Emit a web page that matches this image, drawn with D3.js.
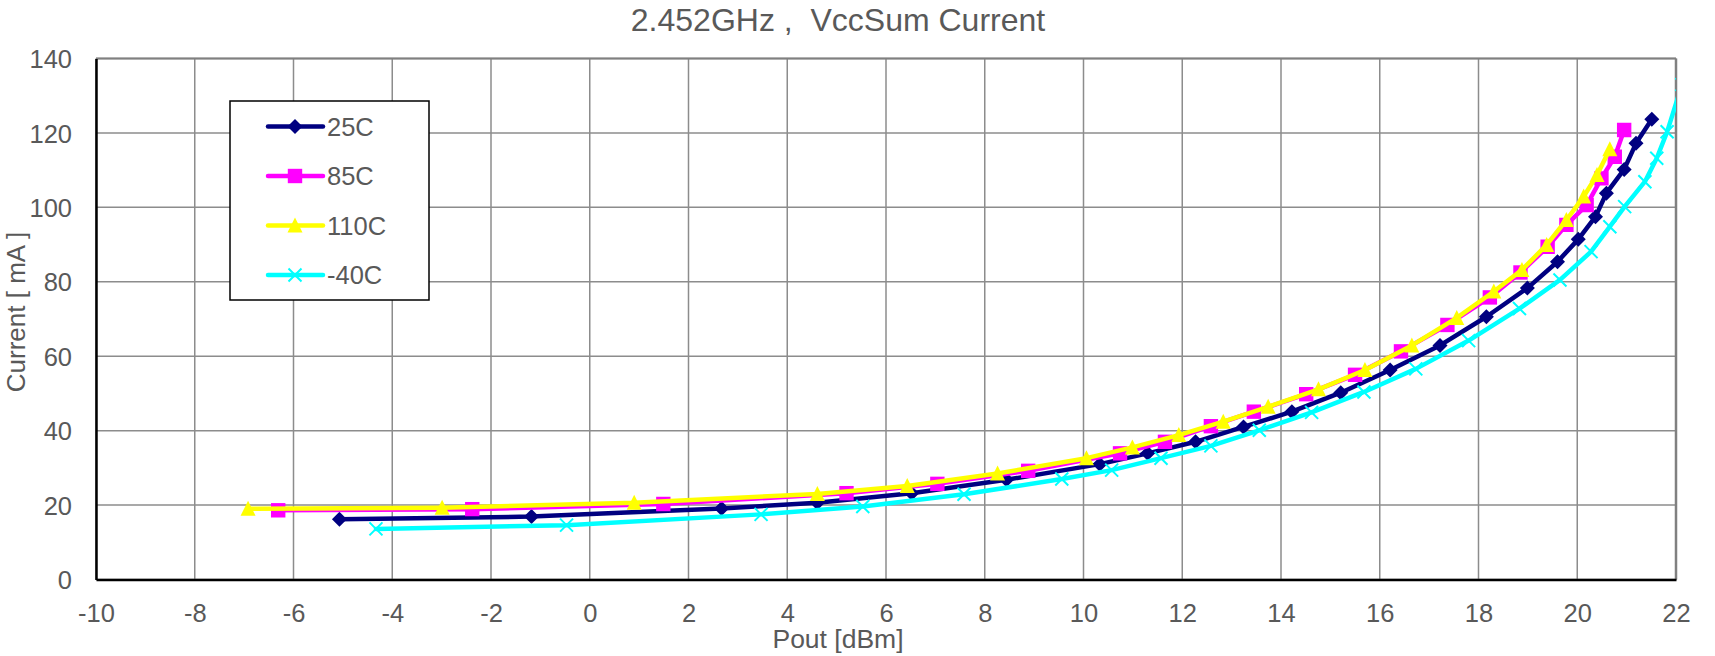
<!DOCTYPE html>
<html>
<head>
<meta charset="utf-8">
<script src="https://cdn.jsdelivr.net/npm/d3@7"></script>
<style>
  html, body { margin: 0; padding: 0; background: #fff; }
  svg { display: block; font-family: "Liberation Sans", Arial, sans-serif; }
</style>
</head>
<body>
<svg id="chart" width="1715" height="656"></svg>
<script>
// Pout [dBm] and VccSum current [mA] per temperature
const pout25 = [-5.07, -1.18, 2.67, 4.61, 6.52, 8.44, 10.33, 11.30, 12.27, 13.24, 14.22, 15.21, 16.21, 17.22, 18.16, 18.99, 19.60, 20.02, 20.37, 20.59, 20.95, 21.19, 21.51];
const curr25 = [16.2, 16.9, 19.1, 20.6, 23.2, 26.8, 31.0, 33.9, 37.0, 41.0, 45.1, 50.2, 56.3, 62.9, 70.6, 78.3, 85.4, 91.4, 97.5, 103.8, 110.2, 117.2, 123.7];

const pout85 = [-6.31, -2.38, 1.49, 5.20, 7.04, 8.88, 10.74, 11.65, 12.58, 13.45, 14.51, 15.50, 16.43, 17.37, 18.23, 18.85, 19.40, 19.78, 20.19, 20.49, 20.76, 20.95];
const curr85 = [18.6, 18.9, 20.3, 23.2, 25.7, 29.2, 33.9, 37.0, 41.2, 45.1, 49.8, 55.0, 61.3, 68.4, 75.8, 82.5, 89.4, 95.3, 100.6, 107.8, 113.6, 120.8];

const pout110 = [-6.92, -2.99, 0.90, 4.61, 6.43, 8.26, 10.06, 10.99, 11.93, 12.83, 13.74, 14.76, 15.70, 16.65, 17.56, 18.31, 18.88, 19.38, 19.78, 20.13, 20.40, 20.66];
const curr110 = [19.0, 19.3, 20.6, 23.0, 25.1, 28.5, 32.6, 35.5, 38.8, 42.4, 46.4, 51.1, 56.3, 62.9, 70.3, 77.4, 83.2, 89.9, 96.6, 102.9, 108.7, 115.6];

const poutM40 = [-4.33, -0.47, 3.47, 5.53, 7.58, 9.56, 10.57, 11.57, 12.58, 13.56, 14.62, 15.68, 16.73, 17.80, 18.83, 19.65, 20.28, 20.66, 20.96, 21.37, 21.61, 21.82, 22.12];
const currM40 = [13.6, 14.6, 17.5, 19.6, 22.9, 27.0, 29.4, 32.6, 35.9, 40.1, 44.9, 50.4, 56.6, 64.2, 72.8, 80.5, 88.1, 94.8, 100.2, 106.9, 113.2, 120.3, 133.0];

const seriesNames = ["25C", "85C", "110C", "-40C"];
const seriesColors = ["#000080", "#FF00FF", "#FFFF00", "#00FFFF"];
const seriesMarkers = ["diamond", "square", "triangle", "cross"];

const xTicks = [-10, -8, -6, -4, -2, 0, 2, 4, 6, 8, 10, 12, 14, 16, 18, 20, 22];
const yTicks = [0, 20, 40, 60, 80, 100, 120, 140];

const titleText = "2.452GHz ,  VccSum Current";
const xTitle = "Pout [dBm]";
const yTitle = "Current [ mA ]";

const series = seriesNames.map((name, i) => {
  const xs = [pout25, pout85, pout110, poutM40][i];
  const ys = [curr25, curr85, curr110, currM40][i];
  return { name, color: seriesColors[i], marker: seriesMarkers[i],
           points: xs.map((v, k) => ({ x: v, y: ys[k] })) };
});

const svg = d3.select("#chart");
const plotL = 96, plotR = 1676, plotT = 58.5, plotB = 579.5;
const x = d3.scaleLinear().domain([-10, 22]).range([plotL, plotR]);
const y = d3.scaleLinear().domain([0, 140]).range([plotB, plotT]);
const textColor = "#595959";
const fontFamily = '"Liberation Sans", Arial, sans-serif';

svg.append("defs").append("clipPath").attr("id", "plotClip")
  .append("rect").attr("x", plotL).attr("y", plotT)
  .attr("width", plotR - plotL).attr("height", plotB - plotT);

// grid
const grid = svg.append("g");
grid.selectAll("line.v").data(xTicks).join("line").attr("class", "v")
  .attr("x1", d => x(d)).attr("x2", d => x(d))
  .attr("y1", plotT).attr("y2", plotB)
  .attr("stroke", "#8c8c8c").attr("stroke-width", 1.5);
grid.selectAll("line.h").data(yTicks).join("line").attr("class", "h")
  .attr("x1", plotL).attr("x2", plotR)
  .attr("y1", d => y(d)).attr("y2", d => y(d))
  .attr("stroke", "#8c8c8c").attr("stroke-width", 1.5);

// plot frame: top and right in gray
svg.append("line").attr("x1", plotL).attr("x2", plotR).attr("y1", plotT).attr("y2", plotT)
  .attr("stroke", "#808080").attr("stroke-width", 2);
svg.append("line").attr("x1", plotR).attr("x2", plotR).attr("y1", plotT).attr("y2", plotB)
  .attr("stroke", "#808080").attr("stroke-width", 2.5);

// marker shapes
function markerPath(type) {
  if (type === "diamond") return "M0,-7.5L7.5,0L0,7.5L-7.5,0Z";
  if (type === "square") return "M-7.2,-7.2H7.2V7.2H-7.2Z";
  if (type === "triangle") return "M0,-8L7.5,7L-7.5,7Z";
  return "M-6.5,-6.5L6.5,6.5M6.5,-6.5L-6.5,6.5";
}
function drawMarker(sel, s) {
  if (s.marker === "cross") {
    sel.attr("d", markerPath(s.marker)).attr("fill", "none")
      .attr("stroke", s.color).attr("stroke-width", 2);
  } else {
    sel.attr("d", markerPath(s.marker)).attr("fill", s.color).attr("stroke", "none");
  }
}

const line = d3.line().x(d => x(d.x)).y(d => y(d.y));
const plot = svg.append("g").attr("clip-path", "url(#plotClip)");
series.forEach(s => {
  const g = plot.append("g");
  g.append("path").datum(s.points).attr("d", line)
    .attr("fill", "none").attr("stroke", s.color).attr("stroke-width", 4.5)
    .attr("stroke-linejoin", "round").attr("stroke-linecap", "round");
  g.selectAll("path.m").data(s.points).join("path").attr("class", "m")
    .attr("transform", d => `translate(${x(d.x)},${y(d.y)})`)
    .call(sel => drawMarker(sel, s));
});

// axes (left and bottom lines in black), plain hyphen minus signs
const fmt = d => String(d);
const xAxis = d3.axisBottom(x).tickValues(xTicks).tickFormat(fmt).tickSize(0).tickPadding(24.5);
const yAxis = d3.axisLeft(y).tickValues(yTicks).tickFormat(fmt).tickSize(0).tickPadding(24);
const gx = svg.append("g").attr("transform", `translate(0,${plotB})`).call(xAxis);
const gy = svg.append("g").attr("transform", `translate(${plotL},0)`).call(yAxis);
[gx, gy].forEach(g => {
  g.select(".domain").attr("stroke", "#000").attr("stroke-width", 2.5);
  g.selectAll("text").attr("fill", textColor).attr("font-size", 25.5)
    .attr("font-family", fontFamily);
});
gy.selectAll("text").attr("dy", "0.36em");

// titles
svg.append("text").attr("x", 838).attr("y", 31).attr("text-anchor", "middle")
  .attr("fill", textColor).attr("font-size", 32).style("white-space", "pre")
  .text(titleText);
svg.append("text").attr("x", 838).attr("y", 648).attr("text-anchor", "middle")
  .attr("fill", textColor).attr("font-size", 26.5).text(xTitle);
svg.append("text").attr("transform", `translate(25,312) rotate(-90)`)
  .attr("text-anchor", "middle").attr("fill", textColor).attr("font-size", 26)
  .text(yTitle);

// legend
const lg = svg.append("g");
lg.append("rect").attr("x", 230).attr("y", 101).attr("width", 199).attr("height", 199)
  .attr("fill", "#fff").attr("stroke", "#000").attr("stroke-width", 1.5);
series.forEach((s, i) => {
  const cy = 126.5 + i * 49.5;
  lg.append("line").attr("x1", 268).attr("x2", 323).attr("y1", cy).attr("y2", cy)
    .attr("stroke", s.color).attr("stroke-width", 4.5).attr("stroke-linecap", "round");
  lg.append("path").attr("transform", `translate(295,${cy})`).call(sel => drawMarker(sel, s));
  lg.append("text").attr("x", 327).attr("y", cy).attr("dy", "0.36em")
    .attr("fill", textColor).attr("font-size", 25.5).text(s.name);
});
</script>
</body>
</html>
